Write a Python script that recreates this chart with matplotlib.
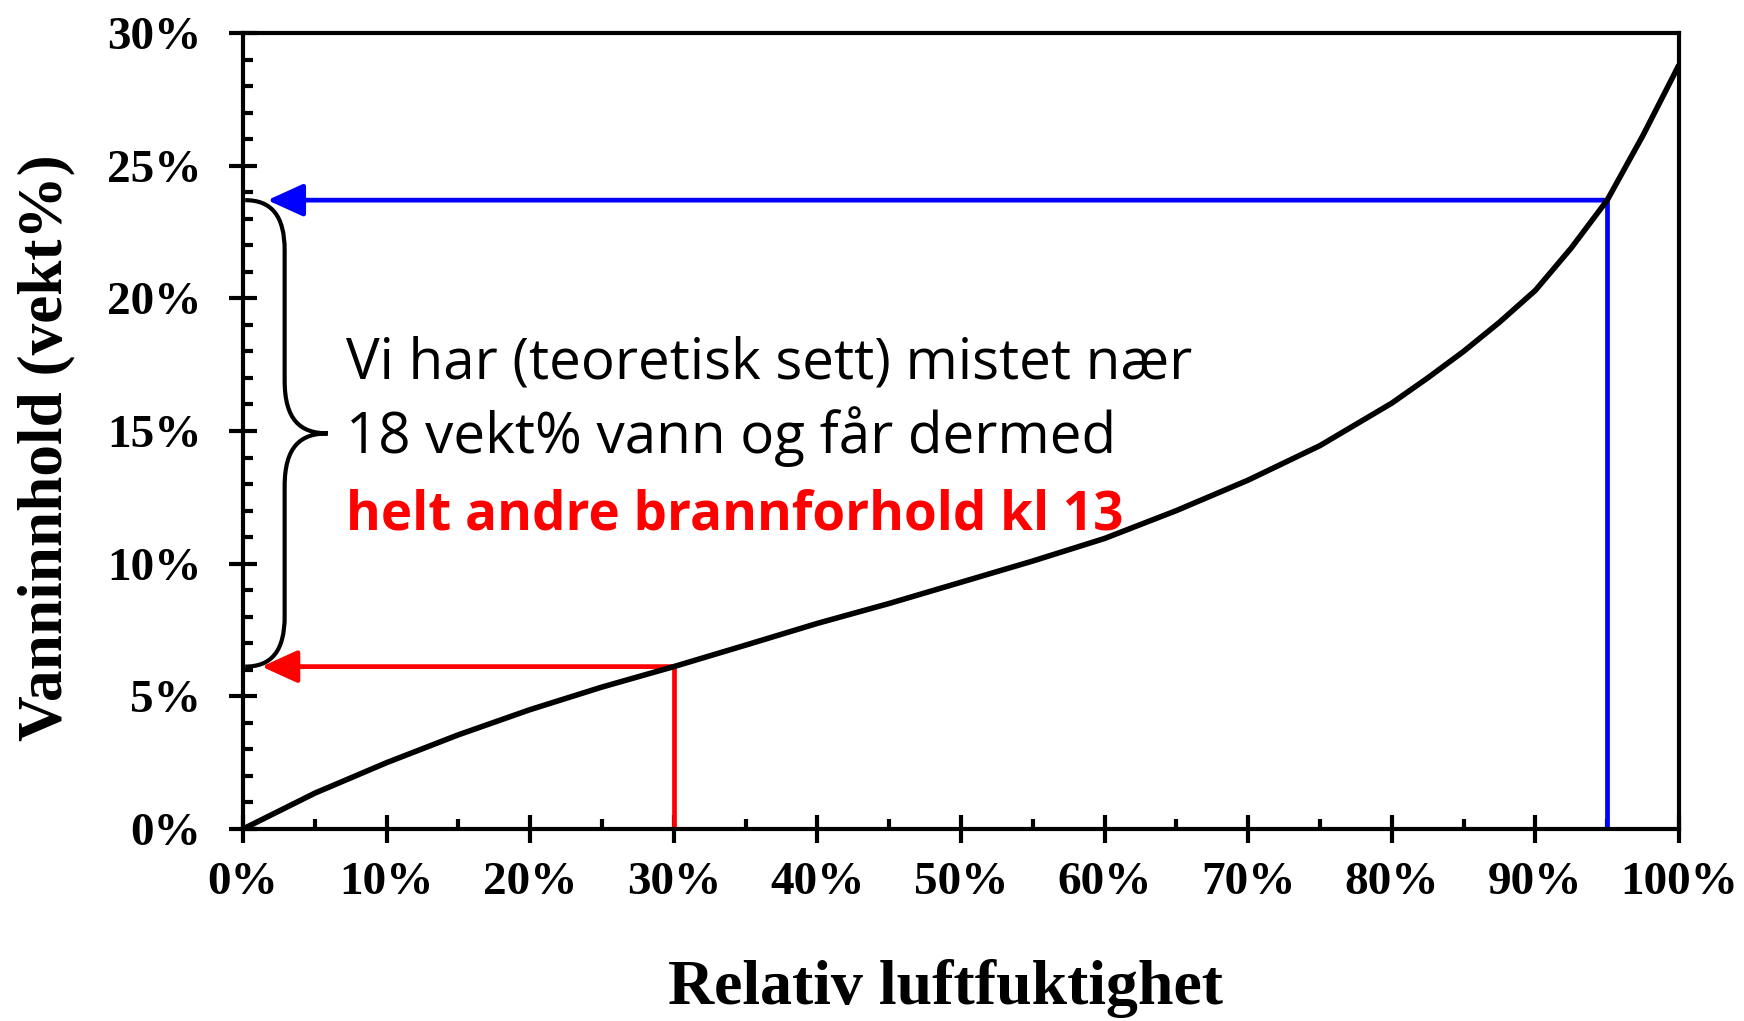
import matplotlib
matplotlib.use("Agg")
import matplotlib.pyplot as plt
from matplotlib.path import Path
from matplotlib.patches import PathPatch
from matplotlib.ticker import MultipleLocator, FuncFormatter

# --- data ---
rh = [0, 5, 10, 15, 20, 25, 30, 35, 40, 45, 50, 55, 60, 65, 70, 75, 80, 82.5, 85, 87.5,
      90, 92.5, 95, 97.5, 100]
moisture = [0, 1.35, 2.5, 3.55, 4.5, 5.35, 6.12, 6.93, 7.75, 8.5, 9.3, 10.1, 10.95, 12.0,
            13.15, 14.45, 16.05, 17.0, 18.0, 19.1, 20.3, 21.9, 23.7, 26.15, 28.8]
rh_high, mc_high = 95, 23.7
rh_low, mc_low = 30, 6.12
x_ticks = [0, 10, 20, 30, 40, 50, 60, 70, 80, 90, 100]
y_ticks = [0, 5, 10, 15, 20, 25, 30]
line1 = "Vi har (teoretisk sett) mistet nær"
line2 = "18 vekt% vann og får dermed"
line3 = "helt andre brannforhold kl 13"
xlabel = "Relativ luftfuktighet"
ylabel = "Vanninnhold (vekt%)"

serif = ["Liberation Serif", "DejaVu Serif"]
sans = ["Open Sans", "DejaVu Sans"]

fig = plt.figure(figsize=(17.44, 10.21), dpi=100)
ax = fig.add_axes([243/1744, 1-829/1021, 1436/1744, 796/1021])
ax.set_xlim(0, 100)
ax.set_ylim(0, 30)

for s in ax.spines.values():
    s.set_linewidth(3)

ax.plot(rh, moisture, color="black", lw=4, zorder=3, solid_capstyle="butt",
        solid_joinstyle="round")

# blue and red guide lines
ax.plot([rh_high, rh_high], [0, mc_high], color="#0000ff", lw=3.4, solid_capstyle="projecting", zorder=2)
ax.plot([rh_low, rh_low], [0, mc_low], color="#ff0000", lw=3.4, solid_capstyle="projecting", zorder=2)
ax.annotate("", xy=(1.7, mc_high), xytext=(rh_high, mc_high),
            arrowprops=dict(arrowstyle="-|>,head_length=22,head_width=10", color="#0000ff",
                            lw=3.4, shrinkA=0, shrinkB=0, mutation_scale=1), zorder=2)
ax.annotate("", xy=(1.3, mc_low), xytext=(rh_low, mc_low),
            arrowprops=dict(arrowstyle="-|>,head_length=22,head_width=10", color="#ff0000",
                            lw=3.4, shrinkA=0, shrinkB=0, mutation_scale=1), zorder=2)

# curly brace
mid = (mc_high + mc_low) / 2
bx, tipx = 2.9, 5.9
verts = [(0.15, mc_high), (2.0, mc_high), (bx, mc_high - 0.6), (bx, mc_high - 1.9),
         (bx, mid + 2.0),
         (bx, mid + 0.5), (4.0, mid), (tipx, mid),
         (4.0, mid), (bx, mid - 0.5), (bx, mid - 2.0),
         (bx, mc_low + 1.9),
         (bx, mc_low + 0.6), (2.0, mc_low), (0.15, mc_low)]
codes = [Path.MOVETO, Path.CURVE4, Path.CURVE4, Path.CURVE4,
         Path.LINETO,
         Path.CURVE4, Path.CURVE4, Path.CURVE4,
         Path.CURVE4, Path.CURVE4, Path.CURVE4,
         Path.LINETO,
         Path.CURVE4, Path.CURVE4, Path.CURVE4]
ax.add_patch(PathPatch(Path(verts, codes), fill=False, lw=3, edgecolor="black", zorder=4,
                       clip_on=False))

# text
ax.text(7.2, 16.99, line1, fontsize=40.7, family=sans, color="black", va="baseline")
ax.text(7.2, 14.16, line2, fontsize=40.7, family=sans, color="black", va="baseline")
ax.text(7.2, 11.27, line3, fontsize=38.2, family=sans, color="#ff0000", fontweight="bold",
        va="baseline")

# ticks
ax.xaxis.set_minor_locator(MultipleLocator(5))
ax.yaxis.set_minor_locator(MultipleLocator(1))
ax.set_xticks(x_ticks)
ax.set_yticks(y_ticks)
ax.xaxis.set_major_formatter(FuncFormatter(lambda v, p: f"{v:.0f}%"))
ax.yaxis.set_major_formatter(FuncFormatter(lambda v, p: f"{v:.0f}%"))
ax.tick_params(which="major", direction="inout", length=20, width=3, pad=14)
ax.tick_params(axis="y", which="major", pad=20)
ax.tick_params(which="minor", direction="in", length=7, width=3)
for lab in ax.get_xticklabels() + ax.get_yticklabels():
    lab.set_fontfamily(serif)
    lab.set_fontweight("bold")
    lab.set_fontsize(34)

ax.set_xlabel(xlabel, family=serif, fontweight="bold", fontsize=46)
ax.set_ylabel(ylabel, family=serif, fontweight="bold", fontsize=45.5)
ax.xaxis.set_label_coords(0.489, -0.163)
ax.yaxis.set_label_coords(-0.117, 0.479)

fig.savefig("out.png", dpi=100)
